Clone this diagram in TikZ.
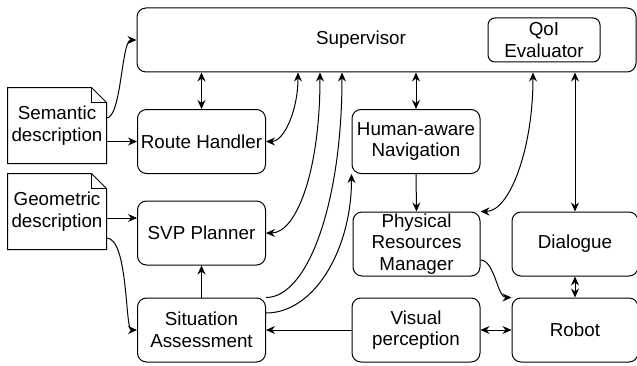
\documentclass[tikz,border=0pt]{standalone}
\usepackage{fontspec}
\setmainfont{Liberation Sans}
\usepackage{tikz}
\usetikzlibrary{arrows.meta,calc}
\tikzset{%
  block/.style={draw, rectangle, rounded corners=9pt, align=center, inner sep=0pt,
    minimum width=128, minimum height=64},% module box
  doc/.style={rectangle, align=center, inner sep=0pt, minimum width=98, minimum height=75},% document, outline drawn by \docshape
  link/.style={-{Stealth[length=9pt,width=8pt,inset=3pt]}},% one way
  both/.style={{Stealth[length=9pt,width=8pt,inset=3pt]}-{Stealth[length=9pt,width=8pt,inset=3pt]}}% two ways
}
\newcommand*{\fold}{15}
\newcommand*{\docshape}[1]{
  \draw (#1.south west) -- (#1.north west) -- ([xshift=-\fold]#1.north east)
    -- ([yshift=-\fold]#1.north east) -- (#1.south east) -- cycle;
  \draw ([xshift=-\fold]#1.north east) -- ([xshift=-\fold, yshift=-\fold]#1.north east)
    -- ([yshift=-\fold]#1.north east);
}

\begin{document}
\begin{tikzpicture}[x=1pt, y=1pt, line width=1pt, font=\fontsize{18.8}{21.7}\selectfont]
\useasboundingbox (0,0) rectangle (637,365);

\node[block, minimum width=499] (sup) at (386.5, 325) {};
\node (suplabel) at (361, 325) {Supervisor};
\node[block, rounded corners=7pt, minimum width=112, minimum height=44] (qoi) at (544, 325) {QoI\\Evaluator};

\node[doc] (sem) at (57, 239.5) {Semantic\\description};
\node[doc] (geo) at (57, 153.5) {Geometric\\description};
\docshape{sem}
\docshape{geo}

\node[block] (rh)  at (201.5, 223.5) {Route Handler};
\node[block] (svp) at (201.5, 132) {SVP Planner};
\node[block] (sa)  at (201.5, 35) {Situation\\Assessment};
\node[block] (han) at (416, 223.5) {Human-aware\\Navigation};
\node[block, minimum width=127] (prm) at (416.5, 121) {Physical\\Resources\\Manager};
\node[block] (vp)  at (416, 35) {Visual\\perception};
\node[block, minimum width=126] (dia) at (575, 121) {Dialogue};
\node[block, minimum width=126] (rob) at (575, 35) {Robot};

\coordinate (geoout) at ([yshift=-6.5]geo.east);

%%%%
\draw[link] ([yshift=7.5]sem.east) to[out=0, in=180, out distance=15, in distance=15] (sup.west);
\draw[link] (sem.east |- rh.west) -- (rh.west);
\draw[link] (geoout) -- (geoout -| svp.west);
\draw[link] ([yshift=-26.5]geo.east) to[out=0, in=180, out distance=22, in distance=12] (sa.west);
%%%%
\draw[both] (rh.north) -- (rh.north |- sup.south);
\draw[both] (han.north) -- (han.north |- sup.south);
\draw[both] (dia.north) -- (dia.north |- sup.south);
\draw[both] (rh.east) to[out=0, in=-90, out distance=18, in distance=38] ([xshift=-88.5]sup.south);
\draw[both] (svp.east) to[out=0, in=-90, out distance=30, in distance=100] ([xshift=-66.5]sup.south);
\draw[link] (sa.north east) to[out=0, in=-90, out distance=42, in distance=130] ([xshift=-44.5]sup.south);
\draw[link] ([yshift=17]sa.east) to[out=0, in=-90, out distance=48, in distance=76] (han.south west);
\draw[both] (prm.north east) to[out=0, in=-90, out distance=29, in distance=77] ([xshift=146.5]sup.south);
%%%%
\draw[link] (han.south) -- (prm.north);
\draw[link] (sa.north) -- (svp.south);
\draw[link] (vp.west) -- (sa.east);
\draw[both] (vp.east) -- (rob.west);
\draw[both] (dia.south) -- (rob.north);
\draw[link] ([yshift=-16]prm.east) to[out=0, in=180, out distance=14, in distance=14] (rob.north west);
\end{tikzpicture}
\end{document}
